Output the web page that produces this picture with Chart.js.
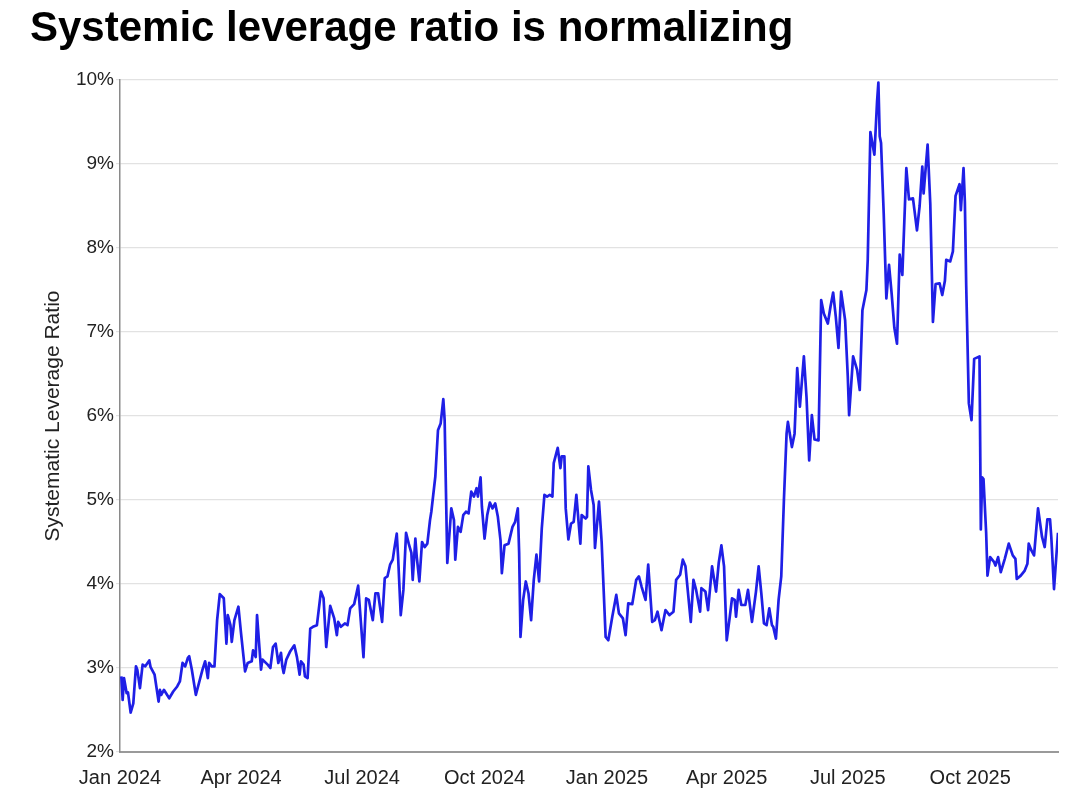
<!DOCTYPE html>
<html>
<head>
<meta charset="utf-8">
<script src="https://cdn.jsdelivr.net/npm/chart.js@4.4.1/dist/chart.umd.min.js"></script>
<style>
  html, body { margin: 0; padding: 0; background: #fff; }
  #wrap { position: relative; width: 1088px; height: 801px; }
  #title { position: absolute; left: 30px; top: 6px; margin: 0;
    font-family: "Liberation Sans", Arial, sans-serif; font-weight: bold;
    font-size: 42px; line-height: 42px; color: #000; white-space: nowrap; }
  #cv { position: absolute; left: 0; top: 0; }
</style>
</head>
<body>
<div id="wrap">
  <canvas id="cv" width="1088" height="801"></canvas>
  <h1 id="title">Systemic leverage ratio is normalizing</h1>
</div>
<script>
// Day offsets from 2024-01-01
const startDate = "2024-01-01";
const dayOffsets = [
  1,2,3,5,6,8,10,12,13,15,17,19,22,23,26,29,30,31,33,37,40,43,45,47,49,51,52,54,57,60,
  62,64,66,67,69,71,73,75,78,80,81,83,84,86,89,91,94,96,99,100,102,103,106,107,111,113,115,117,119,121,
  122,123,125,128,131,133,135,136,138,139,141,143,145,148,151,153,155,158,161,163,164,166,169,171,173,176,179,183,185,187,
  190,192,194,197,199,201,203,205,206,208,209,211,213,215,217,219,220,222,223,225,227,229,231,233,234,237,239,241,243,244,
  246,249,251,252,254,256,258,260,262,264,266,268,269,271,272,274,276,278,280,282,284,286,287,289,292,295,297,299,300,301,
  303,305,307,309,311,313,315,317,319,321,323,325,326,328,329,331,332,334,335,337,339,341,343,346,347,350,351,352,354,356,
  357,360,362,365,367,370,373,375,378,380,382,385,388,390,392,395,397,400,402,404,407,410,413,416,418,421,423,425,429,431,
  433,436,437,440,442,445,448,450,452,454,456,458,460,462,463,465,467,470,472,475,478,480,482,484,486,488,490,491,493,495,
  497,499,501,502,505,507,509,511,514,516,518,520,522,525,527,529,532,534,536,538,540,542,545,547,548,551,554,556,558,561,
  562,564,567,569,570,571,572,574,576,578,580,582,584,586,588,591,593,596,599,601,603,604,607,609,611,613,616,618,620,621,
  624,626,628,631,632,634,635,636,638,640,642,646,647,648,649,651,652,654,657,658,660,662,665,668,671,673,674,677,680,682,
  683,685,687,690,693,695,697,699,700,702,705
];
const leverageRatio = [
  2.90,2.62,2.88,2.70,2.71,2.47,2.58,3.02,2.98,2.76,3.04,3.02,3.09,3.01,2.92,2.60,2.74,2.68,2.74,2.64,2.72,2.78,2.84,3.06,3.02,3.12,3.14,2.98,2.68,2.86,
  2.98,3.08,2.88,3.06,3.02,3.02,3.57,3.88,3.83,3.29,3.63,3.51,3.31,3.57,3.73,3.41,2.96,3.06,3.08,3.21,3.13,3.63,2.98,3.10,3.04,3.00,3.25,3.29,3.06,3.18,
  3.02,2.94,3.10,3.20,3.27,3.13,2.92,3.08,3.04,2.90,2.88,3.47,3.49,3.51,3.91,3.83,3.25,3.74,3.59,3.39,3.55,3.49,3.53,3.51,3.71,3.76,3.98,3.13,3.83,3.81,
  3.57,3.89,3.89,3.55,4.07,4.09,4.23,4.29,4.40,4.60,4.33,3.63,3.93,4.61,4.48,4.37,4.05,4.54,4.33,4.03,4.50,4.44,4.48,4.76,4.86,5.28,5.83,5.91,6.20,5.95,
  4.25,4.90,4.76,4.29,4.68,4.62,4.82,4.86,4.84,5.10,5.04,5.14,5.04,5.27,4.92,4.54,4.82,4.97,4.90,4.96,4.80,4.52,4.13,4.46,4.48,4.68,4.74,4.90,4.37,3.37,
  3.81,4.03,3.89,3.57,4.05,4.35,4.03,4.66,5.06,5.04,5.06,5.04,5.44,5.56,5.62,5.38,5.52,5.52,4.90,4.53,4.72,4.74,5.06,4.48,4.82,4.78,4.80,5.40,5.12,4.94,
  4.43,4.98,4.50,3.37,3.33,3.61,3.87,3.65,3.59,3.39,3.77,3.76,4.05,4.09,3.97,3.81,4.23,3.55,3.57,3.67,3.45,3.69,3.63,3.67,4.05,4.11,4.29,4.21,3.55,4.05,
  3.93,3.67,3.95,3.91,3.69,4.21,3.91,4.25,4.46,4.21,3.33,3.57,3.83,3.81,3.61,3.93,3.75,3.75,3.93,3.55,3.91,4.21,3.89,3.53,3.51,3.71,3.51,3.49,3.35,3.81,
  4.09,5.00,5.79,5.93,5.63,5.79,6.57,6.11,6.71,6.22,5.47,6.01,5.72,5.71,7.38,7.22,7.10,7.30,7.47,7.18,6.81,7.48,7.14,6.47,6.01,6.71,6.55,6.31,7.26,7.50,
  7.86,9.38,9.11,9.74,9.97,9.33,9.25,8.41,7.40,7.80,7.45,7.05,6.86,7.92,7.68,8.95,8.58,8.59,8.21,8.50,8.97,8.65,9.23,8.53,7.12,7.57,7.58,7.44,7.61,7.86,
  7.84,7.96,8.62,8.76,8.45,8.95,8.55,7.56,6.15,5.95,6.68,6.71,4.65,5.27,5.25,4.61,4.10,4.32,4.26,4.22,4.32,4.14,4.30,4.48,4.34,4.30,4.06,4.10,4.16,4.24,
  4.48,4.40,4.34,4.90,4.56,4.44,4.77,4.77,4.55,3.94,4.61
];
const tickDays = [0, 91, 182, 274, 366, 456, 547, 639];
const tickLabels = ["Jan 2024", "Apr 2024", "Jul 2024", "Oct 2024", "Jan 2025", "Apr 2025", "Jul 2025", "Oct 2025"];
const yTicks = [2, 3, 4, 5, 6, 7, 8, 9, 10];

const points = dayOffsets.map((d, i) => ({ x: d, y: leverageRatio[i] }));
const FONT = '"Liberation Sans", Arial, sans-serif';

new Chart(document.getElementById('cv'), {
  type: 'line',
  data: {
    datasets: [{
      data: points,
      borderColor: '#1f1fe6',
      borderWidth: 2.7,
      pointRadius: 0,
      tension: 0,
      fill: false,
      borderJoinStyle: 'round'
    }]
  },
  options: {
    responsive: false,
    animation: false,
    devicePixelRatio: 1,
    layout: { padding: { top: 80, right: 30, left: 0, bottom: 0 } },
    plugins: { legend: { display: false }, tooltip: { enabled: false }, title: { display: false } },
    scales: {
      x: {
        type: 'linear',
        min: 0,
        max: 705,
        afterBuildTicks: (scale) => { scale.ticks = tickDays.map(v => ({ value: v })); },
        afterFit: (scale) => { scale.height = 49; },
        ticks: {
          autoSkip: false, maxRotation: 0, minRotation: 0, padding: 6,
          color: '#222', font: { family: FONT, size: 20 },
          callback: (v) => { const i = tickDays.indexOf(v); return i >= 0 ? tickLabels[i] : ''; }
        },
        grid: { display: false },
        border: { display: true, color: '#9a9a9a', width: 2 }
      },
      y: {
        min: 2,
        max: 10,
        afterBuildTicks: (scale) => { scale.ticks = yTicks.map(v => ({ value: v })); },
        afterFit: (scale) => { scale.width = 120; },
        ticks: {
          padding: 2, color: '#222', font: { family: FONT, size: 19 },
          callback: (v) => v + '%'
        },
        grid: { color: '#e2e2e2', lineWidth: 1.2, tickLength: 4 },
        border: { display: true, color: '#8a8a8a', width: 1.5 },
        title: {
          display: true, text: 'Systematic Leverage Ratio', color: '#222',
          font: { family: FONT, size: 21 }, padding: { top: 41, bottom: 0 }
        }
      }
    }
  }
});
</script>
</body>
</html>
